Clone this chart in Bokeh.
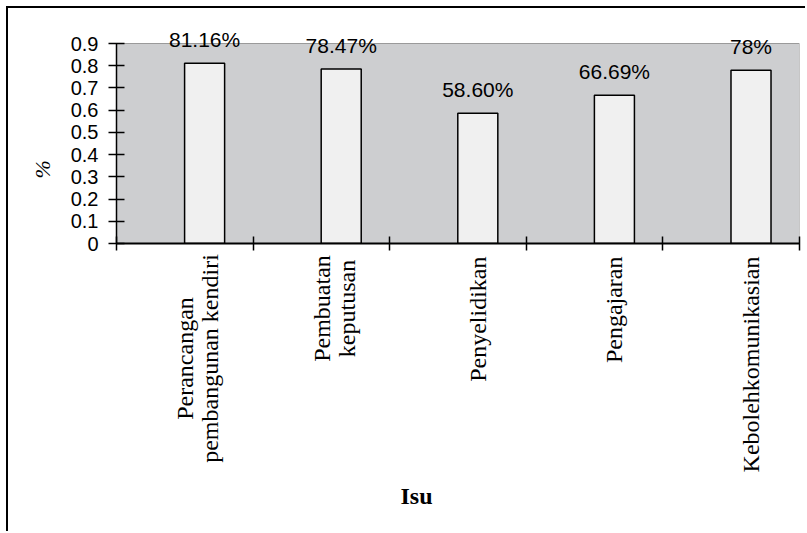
import math
from bokeh.plotting import figure
from bokeh.layouts import column
from bokeh.models import (ColumnDataSource, FixedTicker, LabelSet, Range1d, Title)
from bokeh.core.properties import value
from bokeh.embed import file_html
from bokeh.resources import INLINE

# ---- data ----
categories = ["Perancangan\npembangunan kendiri", "Pembuatan\nkeputusan",
              "Penyelidikan", "Pengajaran", "Kebolehkomunikasian"]
values = [0.8116, 0.7847, 0.5860, 0.6669, 0.78]
value_labels = ["81.16%", "78.47%", "58.60%", "66.69%", "78%"]
y_tick_labels = ["0", "0.1", "0.2", "0.3", "0.4", "0.5", "0.6", "0.7", "0.8", "0.9"]
x_title = "Isu"
y_title = "%"

# ---- layout ----
W = 799
H1, H2 = 247, 278
BL, BR = 108, 8
BT = 20
PLOT_H = 200           # px height of the grey plot area (0..0.9)
EXTRA_TOP = 15         # white space above grey area inside frame
BB = H1 - BT - PLOT_H - EXTRA_TOP
YMAX = 0.9
N = len(categories)
BAR_OFFSET = 0.645
BAR_WIDTH = 0.293
px_x = (W - BL - BR) / N
px_y = PLOT_H / YMAX
LABEL_TOP = 3          # px below strip top where single-line labels end
LABEL_CENTER = {0: 105, 1: 55}   # px centre of two-line labels in strip
MULTI_DX = -7          # px horizontal shift of two-line label blocks
TITLE_X = 2.196        # x (category units) of the "Isu" title centre
TITLE_Y = 242          # px baseline of "Isu" in strip

xs = [i + BAR_OFFSET for i in range(N)]
src = ColumnDataSource(dict(x=xs, top=values, lab=value_labels))

p = figure(width=W, height=H1, x_range=Range1d(0, N),
           y_range=Range1d(0, YMAX + EXTRA_TOP / px_y),
           output_backend="svg", toolbar_location=None,
           min_border_left=BL, min_border_right=BR, min_border_top=BT,
           min_border_bottom=BB,
           background_fill_color="white", border_fill_color="white",
           outline_line_color=None)
p.styles = {"margin-left": "6px", "margin-top": "6px",
            "border-left": "2px solid black", "border-top": "2px solid black"}
p.xgrid.visible = False
p.ygrid.visible = False

# grey plot area
p.quad(left=0, right=N, bottom=0, top=YMAX, fill_color="#CDCED0",
       line_color="#9A9A9A", line_width=1)

p.vbar(x="x", top="top", width=BAR_WIDTH, bottom=0, source=src,
       fill_color="#F0F0F0", line_color="black", line_width=1.5)

# x axis: category boundary ticks, no labels
p.xaxis.ticker = FixedTicker(ticks=list(range(N + 1)))
p.xaxis.major_label_overrides = {i: "" for i in range(N + 1)}
p.xaxis.major_label_text_font_size = "0px"
p.xaxis.major_label_standoff = 0
p.xaxis.major_tick_in = 7
p.xaxis.major_tick_out = 7
p.xaxis.minor_tick_line_color = None
p.xaxis.axis_line_width = 2
p.xaxis.major_tick_line_width = 1.5
p.xaxis.axis_line_color = "black"
p.xaxis.major_tick_line_color = "black"

# y axis
yt = [float(s) for s in y_tick_labels]
p.yaxis.ticker = FixedTicker(ticks=yt)
p.yaxis.bounds = (0, YMAX)
p.yaxis.major_label_overrides = {t: s for t, s in zip(yt, y_tick_labels)}
p.yaxis.major_tick_in = 8
p.yaxis.major_tick_out = 8
p.yaxis.minor_tick_line_color = None
p.yaxis.major_label_standoff = 10
p.yaxis.axis_line_width = 1.5
p.yaxis.major_tick_line_width = 1.5
p.yaxis.major_label_text_font = "Liberation Sans"
p.yaxis.major_label_text_font_size = "20px"
p.yaxis.major_label_text_color = "black"

# value labels
p.add_layout(LabelSet(x="x", y="top", text="lab", source=src,
                      text_align="center", text_baseline="alphabetic",
                      y_offset=16, text_font=value("Liberation Sans"),
                      text_font_size="21px", text_color="black"))

p.add_layout(Title(text=y_title, align="left", offset=65, standoff=26,
                   text_font="Liberation Serif", text_font_style="italic",
                   text_font_size="22px", text_color="black"), "left")

# ---- label strip below the chart (shares the category x range) ----
p2 = figure(width=W, height=H2, x_range=p.x_range, y_range=Range1d(H2, 0),
            x_axis_type=None, y_axis_type=None,
            output_backend="svg", toolbar_location=None,
            min_border_left=BL, min_border_right=BR, min_border_top=0,
            min_border_bottom=0, background_fill_color="white",
            border_fill_color="white", outline_line_color=None)
p2.styles = {"margin-left": "6px", "border-left": "2px solid black"}

is_multi = ["\n" in c for c in categories]
lab_x = [x + (MULTI_DX / px_x if m else 0) for x, m in zip(xs, is_multi)]
lab_y = [LABEL_CENTER[i] if m else LABEL_TOP for i, m in enumerate(is_multi)]
lab_align = ["center" if m else "right" for m in is_multi]
cat_src = ColumnDataSource(dict(x=lab_x, y=lab_y, text=categories, align=lab_align))
p2.text(x="x", y="y", text="text", source=cat_src, angle=math.pi / 2,
        text_align="align", text_baseline="middle",
        text_font=value("Liberation Serif"), text_font_size="24px",
        text_line_height=0.95, text_color="black")
p2.text(x=[TITLE_X], y=[TITLE_Y], text=[x_title], text_align="center",
        text_baseline="alphabetic", text_font=value("Liberation Serif"),
        text_font_style="bold", text_font_size="24px", text_color="black")

layout = column(p, p2, spacing=0)
open("out.html", "w").write(file_html(layout, INLINE))
